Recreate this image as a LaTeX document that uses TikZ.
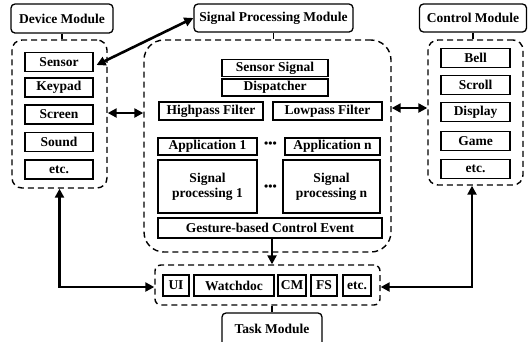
\documentclass[tikz,border=0pt]{standalone}
\usepackage{fontspec}
\setmainfont{Liberation Serif}
\usetikzlibrary{arrows.meta}
\begin{document}
\begin{tikzpicture}[x=1pt,y=-1pt,
  font=\fontsize{13.5}{15}\selectfont\bfseries,
  box/.style={draw, line width=1.2pt, inner sep=0pt, align=center},
  lbl/.style={draw, line width=1.3pt, rounded corners=4pt, inner sep=0pt},
  dbox/.style={draw, dash pattern=on 6pt off 4pt, line width=1.4pt, inner sep=0pt},
  big/.style={line width=2.6pt, {Triangle[length=9pt,width=9pt]}-{Triangle[length=9pt,width=9pt]}},
  one/.style={line width=2.6pt, -{Triangle[length=9pt,width=9pt]}},
  thin/.style={line width=1.3pt},
  dots/.style={inner sep=0pt, font=\fontsize{12}{12}\selectfont\bfseries}
]
\useasboundingbox (0,0) rectangle (529,341);

% dashed containers
\node[dbox, rounded corners=10pt, minimum width=95pt, minimum height=148pt] (devbox) at (59.5,114) {};
\node[dbox, rounded corners=10pt, minimum width=95pt, minimum height=145pt] (ctrlbox) at (475.5,112.5) {};
\node[dbox, rounded corners=20pt, minimum width=247pt, minimum height=212pt] (spbox) at (267.5,146) {};
\node[dbox, rounded corners=6pt, minimum width=225pt, minimum height=40pt] (taskbox) at (267.5,285) {};

% labels
\node[lbl, minimum width=102pt, minimum height=29pt] (devlabel) at (62,18.5) {Device Module};
\node[lbl, minimum width=159pt, minimum height=28pt] (splabel) at (273.5,18) {Signal Processing Module};
\node[lbl, minimum width=107pt, minimum height=28pt] (ctrllabel) at (473,18) {Control Module};
\node[lbl, minimum width=100pt, minimum height=36pt] (tasklabel) at (272,331) {\raisebox{5pt}{Task Module}};

\draw[thin] (devlabel.south) -- (devlabel.south |- devbox.north);
\draw[thin] (splabel.south) -- (splabel.south |- spbox.north);
\draw[thin] (ctrllabel.south) -- (ctrllabel.south |- ctrlbox.north);
\draw[thin] (tasklabel.north) -- (tasklabel.north |- taskbox.south);

% device items
\node[box, minimum width=68pt, minimum height=19pt] (sensor) at (59,62) {Sensor};
\node[box, minimum width=68pt, minimum height=19pt] (keypad) at (59,87.5) {Keypad};
\node[box, minimum width=68pt, minimum height=19pt] (screen) at (59,114.5) {Screen};
\node[box, minimum width=68pt, minimum height=19pt] (sound) at (59,142) {Sound};
\node[box, minimum width=68pt, minimum height=19pt] (devetc) at (59,169.5) {etc.};

% control items
\node[box, minimum width=69pt, minimum height=19pt] (bell) at (475.5,58) {Bell};
\node[box, minimum width=69pt, minimum height=19pt] (scroll) at (475.5,85) {Scroll};
\node[box, minimum width=69pt, minimum height=19pt] (display) at (475.5,112) {Display};
\node[box, minimum width=69pt, minimum height=19pt] (game) at (475.5,141) {Game};
\node[box, minimum width=69pt, minimum height=19pt] (ctrletc) at (475.5,169) {etc.};

% signal processing items
\node[box, minimum width=106pt, minimum height=17pt] (sensig) at (275,68) {Sensor Signal};
\node[box, minimum width=106pt, minimum height=17pt] (disp) at (275,87.5) {Dispatcher};
\node[box, minimum width=104pt, minimum height=18pt] (high) at (211,111) {Highpass Filter};
\node[box, minimum width=109pt, minimum height=18pt] (low) at (327.5,111) {Lowpass Filter};
\node[box, minimum width=99pt, minimum height=17pt] (app1) at (207.5,146.5) {Application 1};
\node[box, minimum width=95pt, minimum height=17pt] (appn) at (332.5,146.5) {Application n};
\node[dots] (dots1) at (270.5,144.5) {•••};
\node[box, minimum width=99pt, minimum height=53pt] (sp1) at (207.5,186.5) {Signal\\processing 1};
\node[box, minimum width=97pt, minimum height=53pt] (spn) at (331.5,186.5) {Signal\\processing n};
\node[dots] (dots2) at (270.5,187.5) {•••};
\node[box, minimum width=224pt, minimum height=20pt] (gesture) at (270,228) {Gesture-based Control Event};

% task items
\node[box, minimum width=26pt, minimum height=21pt] (ui) at (176,285.5) {UI};
\node[box, minimum width=80pt, minimum height=21pt] (watch) at (234,285.5) {Watchdoc};
\node[box, minimum width=28pt, minimum height=21pt] (cm) at (292,285.5) {CM};
\node[box, minimum width=26pt, minimum height=21pt] (fs) at (324,285.5) {FS};
\node[box, minimum width=28pt, minimum height=21pt] (tasketc) at (357,285.5) {etc.};

% arrows
\draw[big] ([xshift=3pt,yshift=-3pt]sensor.east) -- (splabel.west);
\draw[big] (devbox.east |- 0,113) -- (spbox.west |- 0,113);
\draw[big] (spbox.east |- 0,108) -- (ctrlbox.west |- 0,108);
\draw[one] (gesture.south -| 272,0) -- (taskbox.north -| 272,0);
\draw[big] (devbox.south) |- (taskbox.west |- 0,287);
\draw[big] (ctrlbox.south -| 472,0) |- (taskbox.east |- 0,287);
\end{tikzpicture}
\end{document}
